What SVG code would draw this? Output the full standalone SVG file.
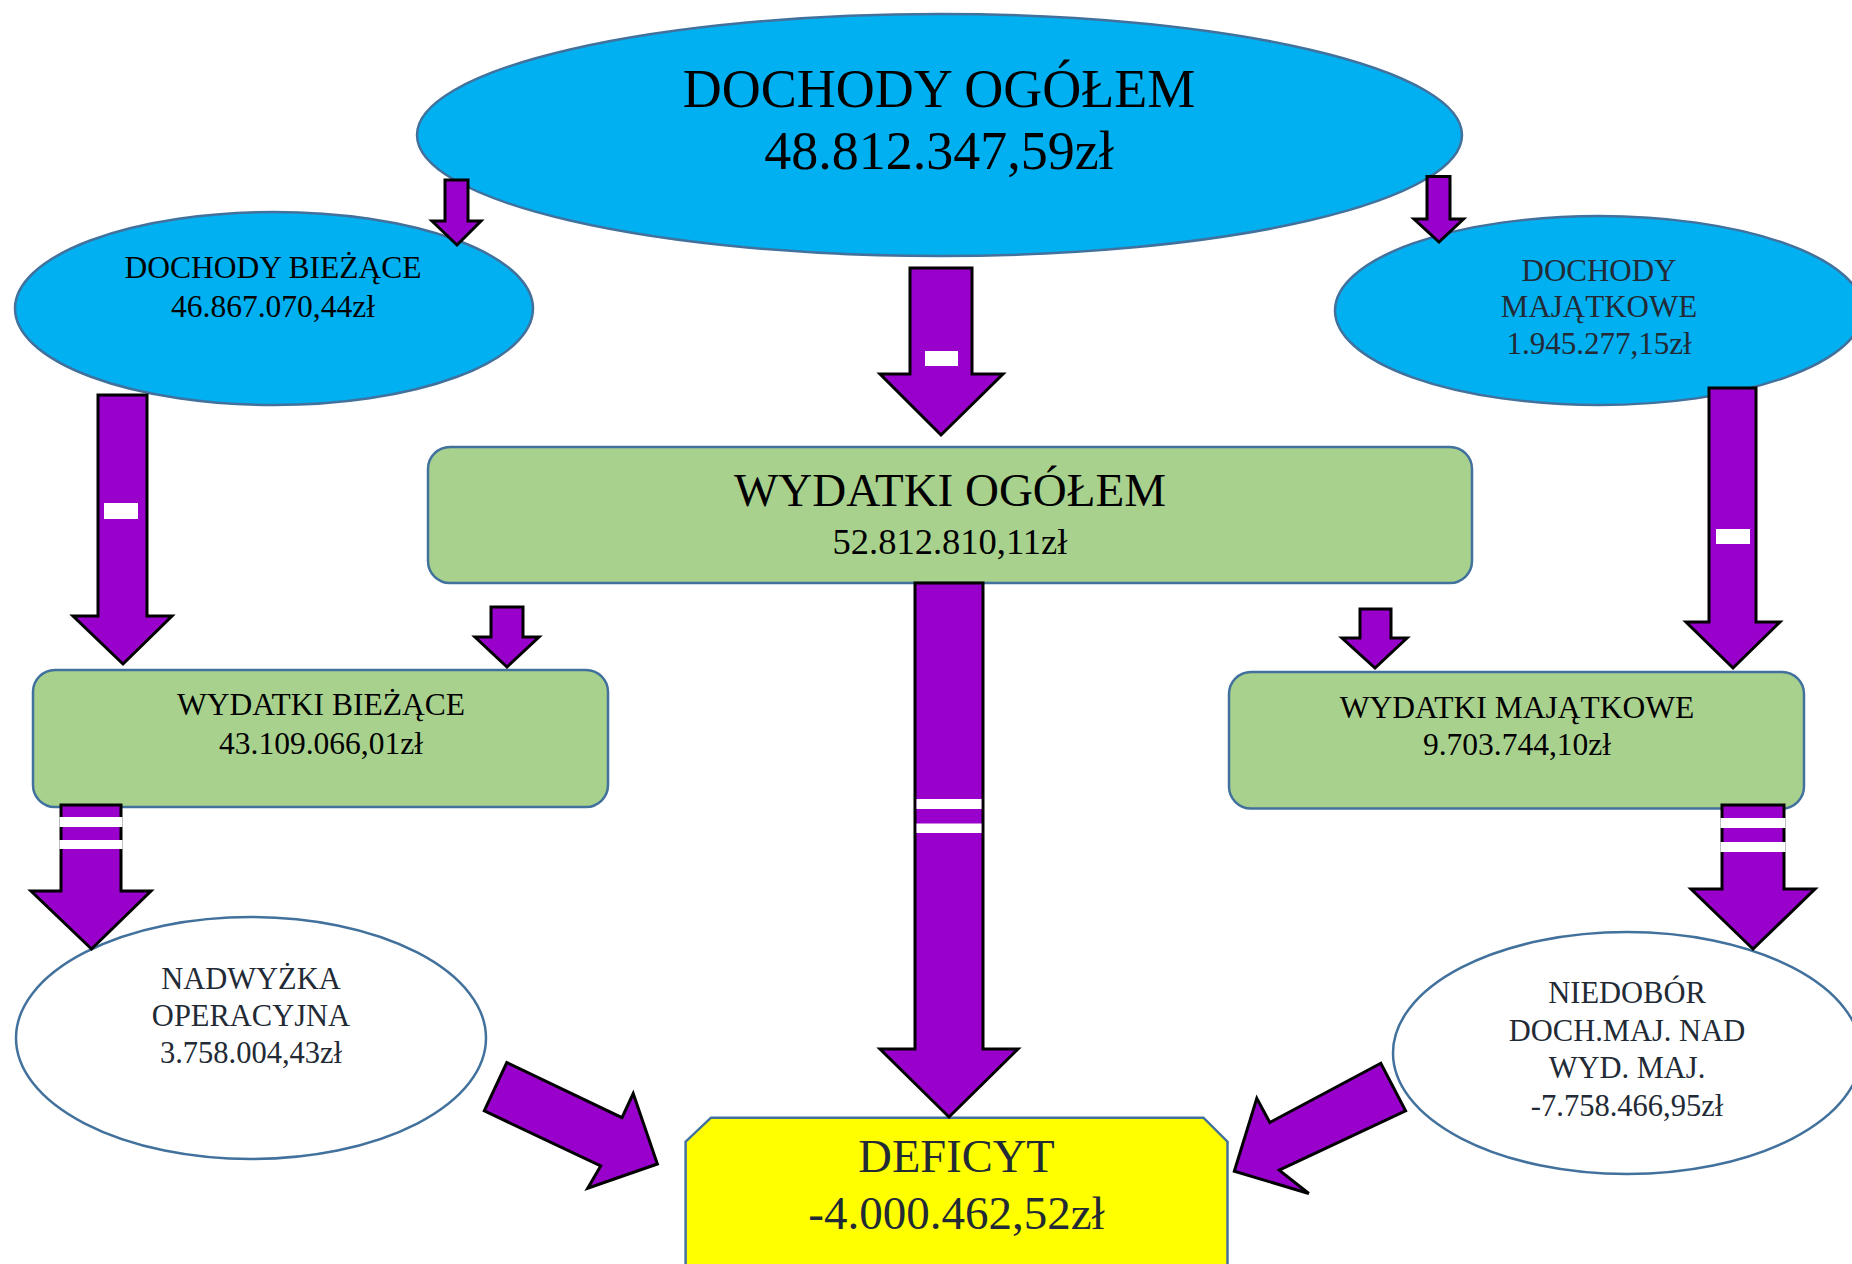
<svg xmlns="http://www.w3.org/2000/svg" width="1852" height="1264" viewBox="0 0 1852 1264">
<style>
.blue{fill:#00B0F0;stroke:#41719C;stroke-width:2.5}
.green{fill:#A9D18E;stroke:#41719C;stroke-width:2.5}
.white{fill:#FFFFFF;stroke:#41719C;stroke-width:2.5}
.yellow{fill:#FFFF00;stroke:#41719C;stroke-width:2.5}
.arr{fill:#9900CC;stroke:#000000;stroke-width:3;stroke-linejoin:miter}
.bar{fill:#FFFFFF}
text{font-family:"Liberation Serif","Times New Roman",serif;text-anchor:middle}
.k{fill:#000000}
.d{fill:#222A35}
</style>
<rect x="0" y="0" width="1852" height="1264" fill="#FFFFFF"/>
<g id="dochody-ogolem">
<ellipse class="blue" cx="939.5" cy="135" rx="522.5" ry="121"/>
<text class="k" x="939" y="107" font-size="54">DOCHODY OGÓŁEM</text>
<text class="k" x="939" y="169" font-size="54">48.812.347,59zł</text>
</g>
<g id="dochody-biezace">
<ellipse class="blue" cx="274" cy="308.5" rx="259" ry="96.5"/>
<text class="k" x="273" y="278" font-size="31.5">DOCHODY BIEŻĄCE</text>
<text class="k" x="273" y="317" font-size="31.5">46.867.070,44zł</text>
</g>
<g id="dochody-majatkowe">
<ellipse class="blue" cx="1599" cy="310.5" rx="264" ry="94.5"/>
<text class="d" x="1599" y="281" font-size="31">DOCHODY</text>
<text class="d" x="1599" y="317" font-size="31">MAJĄTKOWE</text>
<text class="d" x="1599" y="354" font-size="31">1.945.277,15zł</text>
</g>
<g id="wydatki-ogolem">
<rect class="green" x="428" y="447" width="1044" height="136" rx="22" ry="22"/>
<text class="k" x="950" y="506" font-size="47">WYDATKI OGÓŁEM</text>
<text class="k" x="950" y="554" font-size="36.5">52.812.810,11zł</text>
</g>
<g id="wydatki-biezace">
<rect class="green" x="33" y="670" width="575" height="137" rx="22" ry="22"/>
<text class="k" x="321" y="715" font-size="31.5">WYDATKI BIEŻĄCE</text>
<text class="k" x="321" y="754" font-size="31.5">43.109.066,01zł</text>
</g>
<g id="wydatki-majatkowe">
<rect class="green" x="1229" y="672" width="575" height="136.5" rx="22" ry="22"/>
<text class="k" x="1517" y="718" font-size="31.5">WYDATKI MAJĄTKOWE</text>
<text class="k" x="1517" y="755" font-size="31.5">9.703.744,10zł</text>
</g>
<g id="nadwyzka-operacyjna">
<ellipse class="white" cx="251" cy="1038" rx="235" ry="121"/>
<text class="d" x="251" y="989" font-size="30.5">NADWYŻKA</text>
<text class="d" x="251" y="1026" font-size="30.5">OPERACYJNA</text>
<text class="d" x="251" y="1063" font-size="30.5">3.758.004,43zł</text>
</g>
<g id="niedobor">
<ellipse class="white" cx="1627" cy="1053" rx="234" ry="121"/>
<text class="d" x="1627" y="1003" font-size="30.5">NIEDOBÓR</text>
<text class="d" x="1627" y="1040.5" font-size="30.5">DOCH.MAJ. NAD</text>
<text class="d" x="1627" y="1077.5" font-size="30.5">WYD. MAJ.</text>
<text class="d" x="1627" y="1115.5" font-size="30.5">-7.758.466,95zł</text>
</g>
<g id="deficyt">
<polygon class="yellow" points="711,1117.7 1203.4,1117.7 1227.5,1141.7 1227.5,1275 685.6,1275 685.6,1141.7"/>
<text class="d" x="956.5" y="1171.5" font-size="46.5">DEFICYT</text>
<text class="d" x="956.5" y="1229" font-size="47">-4.000.462,52zł</text>
</g>
<g id="connectors">
<polygon class="arr" points="445,180 468,180 468,221 481,221 457,245 432,221 445,221"/>
<polygon class="arr" points="1427,176.5 1450,176.5 1450,219 1463.5,219 1439,242 1414,219 1427,219"/>
<polygon class="arr" points="910,268 972,268 972,374 1003,374 941,435 880,374 910,374"/>
<rect class="bar" x="925" y="351" width="33" height="15"/>
<polygon class="arr" points="98,395 147,395 147,616 172,616 123,664 73,616 98,616"/>
<rect class="bar" x="104" y="503" width="34" height="16"/>
<polygon class="arr" points="1709,388 1756,388 1756,622 1780,622 1733,668 1686,622 1709,622"/>
<rect class="bar" x="1716" y="529" width="34" height="15"/>
<polygon class="arr" points="491,607 523,607 523,637 539,637 507,667 475,637 491,637"/>
<polygon class="arr" points="1360,609 1391,609 1391,638 1407,638 1375,668 1342,638 1360,638"/>
<polygon class="arr" points="915,583 983,583 983,1049 1018,1049 949,1117 880,1049 915,1049"/>
<rect class="bar" x="916.5" y="799" width="65" height="10"/>
<rect class="bar" x="916.5" y="823.5" width="65" height="9.5"/>
<polygon class="arr" points="61,805 121,805 121,891 151,891 91.5,949 31,891 61,891"/>
<rect class="bar" x="59.5" y="817" width="63" height="10"/>
<rect class="bar" x="59.5" y="840" width="63" height="9"/>
<polygon class="arr" points="1722,805 1784,805 1784,889 1815,889 1753,949 1691,889 1722,889"/>
<rect class="bar" x="1720.5" y="818" width="65" height="10"/>
<rect class="bar" x="1720.5" y="842" width="65" height="10"/>
<polygon class="arr" points="506.8,1062.5 622,1117.7 633.2,1093.5 657.4,1164 587.7,1188.2 600.7,1166 484.3,1110.8"/>
<polygon class="arr" points="1380.8,1063.3 1269.8,1122.5 1256.8,1098.3 1234.3,1171.3 1308.8,1193.5 1279.2,1170.1 1405.6,1110.8"/>
</g>
</svg>
